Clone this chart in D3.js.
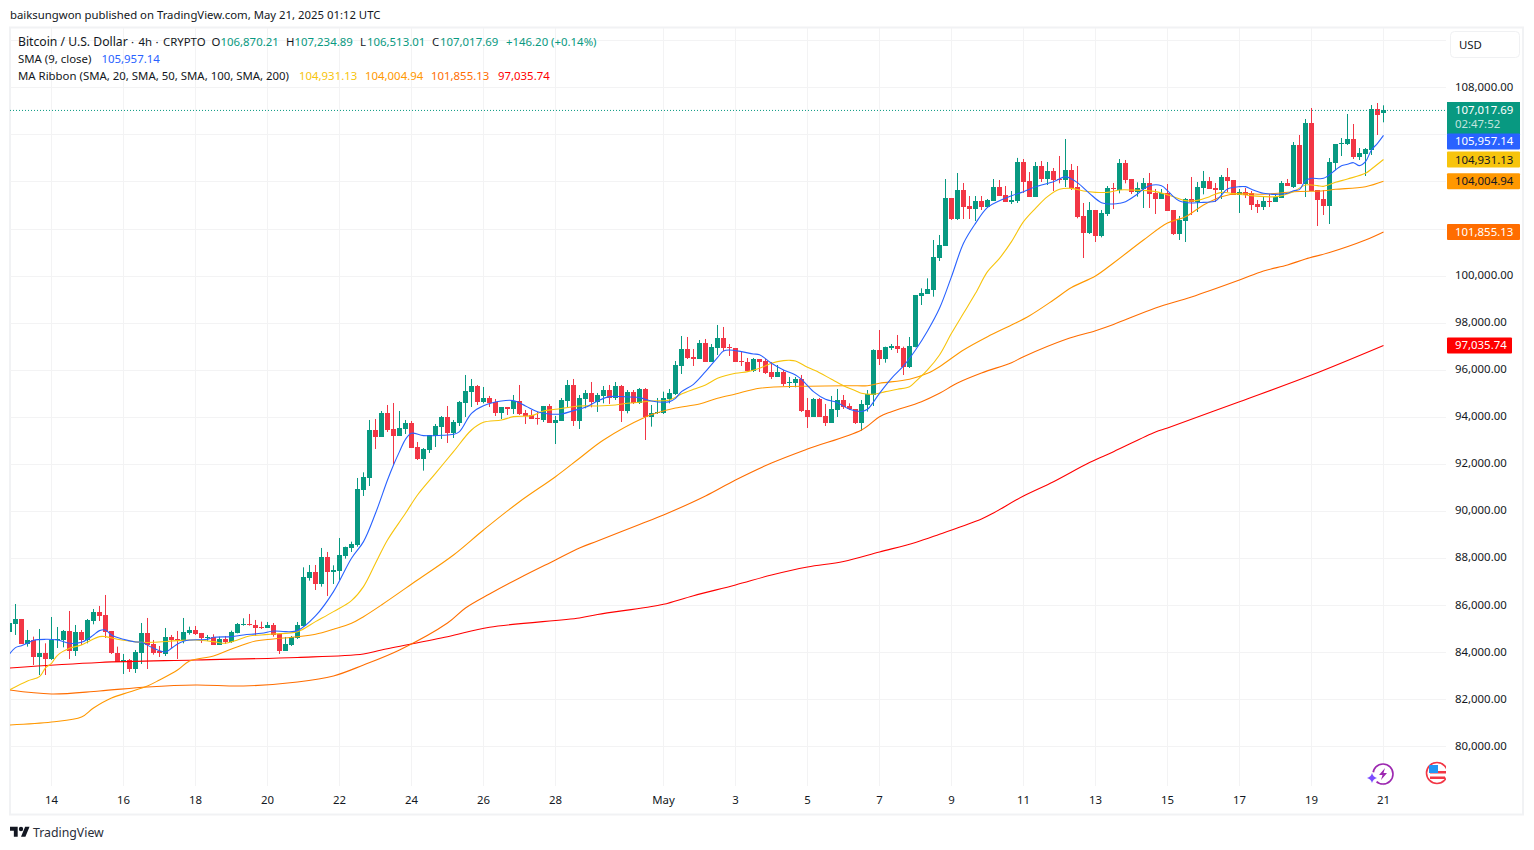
<!DOCTYPE html>
<html>
<head>
<meta charset="utf-8">
<script src="https://cdn.jsdelivr.net/npm/d3@7"></script>
<style>
  html, body { margin: 0; padding: 0; background: #fff; }
  svg { display: block; }
  text { font-family: "Noto Sans", sans-serif; }
</style>
</head>
<body>
<script>
// bars are counted from Apr 14 00:00, one bar = 4h, first bar drawn is -7
var firstBar = -7;

var opens = [
  84875,85201,85413,84351,84521,83799,83969,83714,84521,84521,
  84904,84054,84861,84521,85328,85711,85583,84904,83969,83587,
  83672,83289,83969,84819,84351,84054,83926,84649,84564,84465,
  84819,84946,84819,84620,84649,84309,84564,84436,84819,85158,
  85201,85158,85073,85031,85158,84776,84054,84309,84606,85116,
  87155,87410,86900,88047,87410,87452,88090,88430,88557,90893,
  91403,93442,93145,94164,93485,93187,93485,93740,92720,92210,
  92593,93187,93570,93994,93315,93740,94589,95056,95311,94631,
  94802,94631,94164,94419,94334,94674,94164,94079,93952,93867,
  94462,93740,93825,94674,95354,93825,94759,95014,94632,94887,
  95141,94802,95311,94249,95056,94589,95184,93994,94164,94164,
  94759,94971,96161,96883,96543,96458,97138,96331,96926,97350,
  96968,96926,96373,96331,95948,96458,96373,95906,95694,95906,
  95439,95439,95609,94292,93994,94759,94037,93739,94292,94717,
  94462,94334,93725,94504,94929,96840,96458,96925,97010,96925,
  96118,96968,99134,99219,99389,100748,101258,103297,102405,103637,
  102957,102830,103170,102915,103170,103765,103425,103127,103170,104827,
  104020,103340,104657,104104,104444,104104,104062,104487,103765,102533,
  101810,102788,101683,102618,103722,103637,104784,104105,103552,103680,
  103935,103510,103255,103510,102788,101768,102320,103255,103128,103722,
  104020,103722,103637,104190,104062,103425,103552,103510,103043,102915,
  103170,103128,103297,103935,103765,105549,103892,106484,103637,103255,
  102958,104784,105591,105591,105804,105039,105167,105337,107078,106870.21
];
var highs = [
  85371,86050,85413,84946,84663,84988,84380,85498,85073,84946,
  85753,85158,84946,85413,85838,85966,86433,84904,84238,83926,
  83714,84096,85243,85456,84521,84266,85031,84734,84904,85456,
  85088,85116,84819,84734,84762,84663,84691,84918,85243,85442,
  85626,85371,85300,85286,85243,84804,84649,84691,85286,87608,
  87707,87707,88430,88260,87693,88854,88486,88699,91403,91644,
  93867,93909,94249,94504,94589,94249,93867,93825,92932,92677,
  93230,93697,94037,94462,93867,94674,95779,95609,95354,95269,
  94887,94759,94419,94419,94929,95354,94292,94292,94207,94462,
  94547,94037,94802,95566,95609,94929,95141,95481,95014,95311,
  95354,95481,95354,95141,95141,95226,95226,94504,94802,95071,
  95184,96373,97435,97393,96883,97265,97308,97095,97903,97818,
  97095,96926,96798,96501,96501,96458,96458,96331,96203,95991,
  95694,95694,95779,94802,94802,94802,94547,94887,95184,94929,
  94575,94334,94716,95141,96869,97690,96982,97095,97478,96982,
  97392,99177,99460,99885,101513,101726,104104,103297,104359,103935,
  103382,103382,103382,103255,104104,104062,103807,103595,105001,104954,
  104402,104827,104869,104827,104572,105082,105804,104742,104657,103085,
  103127,102788,102788,103807,103935,104954,104912,104105,103963,104147,
  104360,103680,103680,103892,102788,102533,103297,104190,103977,104445,
  104190,103935,104275,104572,104062,103680,103722,103595,103213,103382,
  103467,103425,104020,104105,105676,105974,106654,107121,103637,103637,
  104997,105591,105846,106866,106441,105421,105421,107248,107333,107234.89
];
var lows = [
  84734,84734,84351,84238,83459,83034,83034,83672,84181,84210,
  83714,83842,84309,84380,85187,85328,84606,83926,83587,83077,
  83162,83119,83502,83289,83898,83799,83842,84181,83714,84380,
  84748,84734,84394,84479,84309,84309,84351,84394,84804,85130,
  85130,84691,84988,85031,84663,83926,84054,84266,84564,85088,
  87042,86645,86787,86391,86900,87070,87976,88260,88486,90639,
  91063,92635,93145,93357,91955,93187,93272,92677,92168,91715,
  92465,92720,93060,92890,93102,93612,93994,94419,94504,94575,
  94419,94037,93909,94079,94122,94079,93697,93909,93669,93782,
  93740,92847,93825,94419,93612,93485,94363,94405,94207,94575,
  94547,94717,93782,94150,94547,94547,93017,93584,94122,94122,
  94575,94929,95821,96458,96161,96458,96331,96331,96628,96798,
  96586,96331,96161,95906,95906,95906,95821,95609,95694,95311,
  95226,95255,94207,93527,93994,93994,93612,93739,93994,94334,
  94292,93697,93414,94221,94461,96203,96302,96840,96713,95778,
  96076,96954,98752,99219,99106,100621,101258,102363,102363,102405,
  102405,102320,102788,102873,103170,103382,103127,103042,103085,103510,
  103340,103340,103977,103850,103595,103920,103765,103637,102434,100748,
  101768,101428,101626,102533,102830,103496,103921,103467,103354,102873,
  102873,102618,103255,102745,101726,101513,101428,102575,102703,103453,
  103680,103128,103255,103552,103425,102660,103297,102788,102660,102788,
  102915,103128,103297,103807,103722,103892,103340,103595,102108,102575,
  102193,104487,105082,105549,104954,104912,104232,105124,105974,106513.01
];
var closes = [
  85258,85413,84351,84521,83799,83969,83714,84521,84564,84904,
  84054,84861,84521,85371,85711,85541,84875,83969,83587,83672,
  83289,84011,84819,84309,83969,83969,84649,84521,84507,84861,
  84946,84776,84606,84649,84309,84564,84422,84861,85201,85201,
  85173,85031,85031,85158,84734,84054,84351,84649,85158,87198,
  87410,86900,88047,87410,87495,88132,88472,88599,90936,91446,
  93442,93145,94164,93442,93187,93527,93740,92677,92210,92635,
  93230,93612,93994,93315,93782,94631,95099,95311,94631,94802,
  94589,94164,94419,94334,94674,94122,94037,93909,93909,94462,
  93740,93867,94717,95354,93825,94802,95014,94632,94929,95141,
  94802,95311,94249,95056,94589,95184,93994,94164,94207,94802,
  95014,96203,96883,96501,96458,97138,96331,96968,97350,96926,
  96926,96331,96331,95948,96458,96331,95864,95694,95906,95396,
  95481,95609,94249,93994,94759,93994,93739,94334,94717,94419,
  94334,93739,94546,94971,96840,96458,96968,97010,96883,96118,
  97010,99177,99262,99432,100791,101301,103297,102405,103637,102915,
  102830,103170,102915,103212,103765,103382,103127,103212,104827,103977,
  103340,104657,104104,104444,104062,104062,104487,103722,102490,101810,
  102788,101683,102660,103722,103680,104784,104062,103552,103722,103935,
  103467,103255,103510,102745,101768,102363,103255,103128,103765,104020,
  103680,103637,104190,104020,103425,103552,103425,103000,102915,103170,
  103128,103340,103935,103807,105549,103892,106484,103595,103213,102958,
  104827,105591,105634,105804,105039,105209,105379,107078,106823,107017.69
];

var sma9Bars = [-7,-6,-5,-4,-3,-1,1,3,5,6,7,8,9,10,12,14,15,17,19,20,21,22,23,26,27,30,32,35,37,39,41,44,47,50,52,54,56,57,58,59,60,62,65,67,68,70,72,75,77,79,81,83,85,87,89,91,93,95,98,100,102,103,104,105,107,109,111,112,113,115,117,118,120,122,124,125,127,129,131,133,135,136,138,140,142,144,146,148,150,152,154,156,158,160,162,164,167,169,170,171,173,175,177,178,179,181,182,183,185,186,187,188,190,192,194,195,196,198,199,200,202,204,206,207,208,209,210,212,214,215,216,217,218,219,220,221,222];
var sma9Values = [83926,84196,84280,84380,84507,84549,84521,84380,84422,84549,84734,84918,84946,84734,84549,84436,84422,84167,84011,84167,84351,84465,84521,84549,84634,84663,84734,84804,84904,84875,84918,85541,86575,87991,88699,89902,91318,91955,92522,93046,93301,93201,93216,93258,93371,94150,94476,94674,94688,94462,94221,94122,94122,94264,94405,94674,94858,94858,94816,94674,94618,94646,94787,95071,95382,95920,96515,96798,96841,96770,96671,96642,96274,95991,95779,95594,95071,94745,94603,94320,94230,94320,95000,95637,96161,96840,97647,98610,99956,101372,102221,102901,103184,103396,103566,103779,103991,104204,104104,103949,103496,103099,103042,103071,103142,103467,103680,103821,103821,103609,103354,103170,103085,103113,103170,103425,103680,103779,103779,103666,103496,103453,103496,103609,103652,104034,104133,104133,104487,104671,104728,104798,104671,104841,105337,105620,105957.14];

var sma20Bars = [-7,-4,-2,-1,0,1,3,5,6,8,9,11,13,15,17,21,24,27,29,31,33,35,37,41,44,47,50,52,54,56,59,61,64,67,70,72,75,77,80,82,84,88,91,94,96,98,100,103,105,107,109,111,114,116,118,120,122,123,124,126,128,130,132,134,135,137,139,141,143,144,146,148,150,152,154,156,158,160,162,164,166,168,170,172,174,176,178,180,184,187,189,191,193,195,197,200,204,207,209,211,212,214,216,219,220,222];
var sma20Values = [82397,82780,82964,83332,83530,83870,84167,84309,84436,84663,84663,84549,84479,84422,84422,84493,84521,84450,84380,84521,84691,84734,84776,84875,85300,85725,86192,86787,87778,88769,89902,90681,91601,92522,93442,93768,93867,94009,94051,94249,94320,94462,94462,94504,94575,94618,94674,94717,94971,95170,95354,95637,95849,95920,96062,96274,96387,96402,96373,96104,95878,95594,95325,95113,95000,94957,95070,95170,95283,95495,95991,96628,97548,98398,99248,100168,100734,101442,102292,102858,103354,103665,103708,103595,103538,103538,103637,103637,103567,103354,103184,103198,103354,103538,103482,103397,103354,103567,103850,103821,103793,103963,104105,104345,104529,104931.13];

var sma50Bars = [-7,0,5,7,10,13,16,18,21,23,27,30,34,37,41,44,47,50,52,55,61,67,72,78,84,88,92,99,101,104,108,111,114,118,125,133,136,138,143,146,148,152,156,160,163,167,170,174,177,182,186,189,192,195,198,202,207,212,214,219,222];
var sma50Values = [80910,81038,81250,81633,82057,82312,82567,82822,83247,83629,83842,84139,84479,84564,84661,84763,84976,85231,85511,86008,87070,88132,89194,90396,91458,92240,93017,93994,94177,94377,94547,94789,94971,95214,95298,95324,95324,95426,95596,95851,96131,96840,97405,97902,98297,98964,99495,99984,100536,101513,102235,102503,103000,103353,103497,103455,103565,103608,103667,103777,104004.94];

var sma100Bars = [-7,0,8,16,24,32,41,47,52,58,66,69,73,78,84,88,91,98,102,109,114,120,126,135,138,140,145,148,151,155,160,162,169,174,177,184,190,198,202,206,209,213,219,222];
var sma100Values = [82397,82227,82355,82525,82610,82567,82737,82992,83459,84097,85243,85881,86475,87155,87920,88429,88727,89428,89831,90638,91318,92040,92635,93442,94007,94219,94644,95001,95439,95863,96301,96556,97287,97660,97924,98625,99092,99814,100197,100451,100706,100982,101513,101855.13];

var sma200Bars = [-7,8,24,41,52,55,66,73,88,91,99,102,107,114,120,126,132,138,144,148,155,157,162,167,173,177,184,186,198,210,222];
var sma200Values = [83332,83566,83672,83778,83927,84097,84661,85061,85456,85605,85902,86038,86403,86858,87282,87622,87856,88259,88663,89011,89661,89916,90638,91246,92061,92520,93357,93527,94644,95779,97035.74];

var gridPrices = [80000,82000,84000,86000,88000,90000,92000,94000,96000,98000,100000,102000,104000,106000,108000,110000];
// 104,000 and 106,000 sit behind the price tags
var priceTicks = [80000,82000,84000,86000,88000,90000,92000,94000,96000,98000,100000,102000,108000];
var timeBars = [0,12,24,36,48,60,72,84,102,114,126,138,150,162,174,186,198,210,222];
var timeLabels = ["14","16","18","20","22","24","26","28","May","3","5","7","9","11","13","15","17","19","21"];

var tagValues = [105957.14, 104931.13, 104004.94, 101855.13, 97035.74];

var upColor = "#089981", downColor = "#f23645", textColor = "#131722";
var blue = "#2962ff", yellow = "#f7c40c", orange = "#ff9800", deepOrange = "#ff6d00", red = "#ff0000";
var gridColor = "#f3f3f4", frameColor = "#f1f2f4";
var fontSize = "11.4px";

var svg = d3.select("body").append("svg").attr("width", 1534).attr("height", 850);

var x = d3.scaleLinear().domain([0, 222]).range([51.5, 1383.5]);
var y = d3.scaleLinear().domain([80000, 108000]).range([746.4, 87.3]);

// frame
svg.append("rect").attr("x", 10).attr("y", 27.5).attr("width", 1513).attr("height", 787)
  .attr("fill", "none").attr("stroke", frameColor).attr("stroke-width", 2);

svg.append("clipPath").attr("id", "plot").append("rect")
  .attr("x", 10).attr("y", 28).attr("width", 1436).attr("height", 757);

// grid
svg.selectAll(".hgrid").data(gridPrices).enter().append("line")
  .attr("x1", 10).attr("x2", 1446)
  .attr("y1", function(d) { return Math.round(y(d)) + 0.5; })
  .attr("y2", function(d) { return Math.round(y(d)) + 0.5; })
  .attr("stroke", gridColor);

svg.selectAll(".vgrid").data(timeBars).enter().append("line")
  .attr("x1", function(d) { return x(d); }).attr("x2", function(d) { return x(d); })
  .attr("y1", 28).attr("y2", 786)
  .attr("stroke", gridColor);

var plot = svg.append("g").attr("clip-path", "url(#plot)");

// candles
var candles = d3.range(opens.length);
function candleColor(i) { return closes[i] >= opens[i] ? upColor : downColor; }
function barX(i) { return x(i + firstBar); }

plot.selectAll(".wick").data(candles).enter().append("rect")
  .attr("x", function(i) { return barX(i) - 0.5; })
  .attr("width", 1)
  .attr("y", function(i) { return y(highs[i]); })
  .attr("height", function(i) { return Math.max(1, y(lows[i]) - y(highs[i])); })
  .attr("fill", candleColor);

plot.selectAll(".body").data(candles).enter().append("rect")
  .attr("x", function(i) { return barX(i) - 2.5; })
  .attr("width", 5)
  .attr("y", function(i) { return Math.round(y(Math.max(opens[i], closes[i]))); })
  .attr("height", function(i) { return Math.max(1, Math.round(Math.abs(y(opens[i]) - y(closes[i])))); })
  .attr("fill", candleColor);

// moving averages
var line = d3.line().x(function(d) { return x(d[0]); }).y(function(d) { return y(d[1]); })
  .curve(d3.curveCatmullRom.alpha(0.5));

function drawAverage(bars, values, color) {
  plot.append("path")
    .attr("d", line(d3.zip(bars, values)))
    .attr("fill", "none").attr("stroke", color).attr("stroke-width", 1.1);
}
drawAverage(sma200Bars, sma200Values, red);
drawAverage(sma100Bars, sma100Values, deepOrange);
drawAverage(sma50Bars, sma50Values, orange);
drawAverage(sma20Bars, sma20Values, yellow);
drawAverage(sma9Bars, sma9Values, blue);

// last price line
plot.append("line")
  .attr("x1", 10).attr("x2", 1446)
  .attr("y1", y(closes[closes.length - 1])).attr("y2", y(closes[closes.length - 1]))
  .attr("stroke", upColor).attr("stroke-dasharray", "1 2");

// axes
var priceAxis = d3.axisRight(y).tickValues(priceTicks).tickSize(0).tickPadding(0)
  .tickFormat(d3.format(",.2f"));
var gy = svg.append("g").attr("transform", "translate(1455,-0.8)").call(priceAxis);
gy.select(".domain").remove();
gy.selectAll("text").attr("fill", textColor).style("font-size", fontSize).style("font-family", '"Noto Sans"');

var timeAxis = d3.axisBottom(x).tickValues(timeBars).tickSize(0).tickPadding(0)
  .tickFormat(function(d, i) { return timeLabels[i]; });
var gx = svg.append("g").attr("transform", "translate(-0.5,796)").call(timeAxis);
gx.select(".domain").remove();
gx.selectAll("text").attr("fill", textColor).style("font-size", fontSize).style("font-family", '"Noto Sans"');

// price tags
var tagColors = [blue, yellow, orange, deepOrange, red];
var tagText = ["#fff", "#131722", "#131722", "#fff", "#fff"];
var tagNudge = [6, 0, 0, 0, 0];
var tagWidth = [73, 73, 73, 73, 65];

svg.append("rect").attr("x", 1447).attr("y", 102).attr("width", 73).attr("height", 32).attr("fill", upColor);
svg.append("text").attr("x", 1455).attr("y", 114).attr("fill", "#fff").style("font-size", fontSize).text("107,017.69");
svg.append("text").attr("x", 1455).attr("y", 128).attr("fill", "#fff").attr("fill-opacity", 0.75).style("font-size", fontSize).text("02:47:52");

tagValues.forEach(function(v, i) {
  var cy = y(v) + tagNudge[i];
  svg.append("rect").attr("x", 1447).attr("y", cy - 8).attr("width", tagWidth[i]).attr("height", 16)
    .attr("rx", 1).attr("fill", tagColors[i]);
  svg.append("text").attr("x", 1455).attr("y", cy + 4).attr("fill", tagText[i])
    .style("font-size", fontSize).text(d3.format(",.2f")(v));
});

// USD box
svg.append("rect").attr("x", 1450.5).attr("y", 31.5).attr("width", 69).attr("height", 26).attr("rx", 4)
  .attr("fill", "#fff").attr("stroke", "#f0f1f3");
svg.append("text").attr("x", 1459).attr("y", 49).attr("fill", textColor).style("font-size", fontSize).text("USD");

// header and legend
function label(px, py, str, color, size) {
  svg.append("text").attr("x", px).attr("y", py).attr("fill", color || textColor)
    .style("font-size", size || fontSize).text(str);
}
label(10, 19, "baiksungwon published on TradingView.com, May 21, 2025 01:12 UTC", textColor, "11.35px");
label(18, 46, "Bitcoin / U.S. Dollar", textColor, "12.2px");
label(131, 46, "·"); label(138.5, 46, "4h"); label(155.5, 46, "·"); label(163, 46, "CRYPTO");
label(211.5, 46, "O"); label(220.5, 46, "106,870.21", upColor);
label(286, 46, "H"); label(294.5, 46, "107,234.89", upColor);
label(360, 46, "L"); label(367, 46, "106,513.01", upColor);
label(432, 46, "C"); label(440, 46, "107,017.69", upColor);
label(506, 46, "+146.20 (+0.14%)", upColor);
label(18, 63, "SMA (9, close)");
label(101.5, 63, "105,957.14", blue);
label(18, 80, "MA Ribbon (SMA, 20, SMA, 50, SMA, 100, SMA, 200)");
label(299, 80, "104,931.13", yellow);
label(365, 80, "104,004.94", orange);
label(431, 80, "101,855.13", deepOrange);
label(498, 80, "97,035.74", red);

// logo
var logo = svg.append("g").attr("transform", "translate(10,824.6) scale(0.55)").attr("fill", textColor);
logo.append("path").attr("d", "M14 22H7V11H0V4h14v18zM28 22h-8l7.5-18h8L28 22z");
logo.append("circle").attr("cx", 20).attr("cy", 8).attr("r", 4);
svg.append("text").attr("x", 33).attr("y", 837).attr("fill", "#2a2e39").style("font-size", "12.3px").text("TradingView");

// event icons
var bolt = svg.append("g").attr("transform", "translate(1383,774)");
bolt.append("circle").attr("r", 10).attr("fill", "#fff").attr("stroke", "#9c27b0").attr("stroke-width", 1.6);
bolt.append("circle").attr("cx", -11).attr("cy", 4).attr("r", 6).attr("fill", "#fff");
bolt.append("path").attr("d", "M2 -6 L-4 1 L-0.5 1 L-2 6 L4 -1 L0.5 -1 Z").attr("fill", "#9c27b0");
bolt.append("path").attr("d", "M-11 -1 Q-10 3 -6 4 Q-10 5 -11 9 Q-12 5 -16 4 Q-12 3 -11 -1 Z").attr("fill", "#7b4dff");

svg.append("clipPath").attr("id", "flagClip").append("rect")
  .attr("x", 1420).attr("y", 760).attr("width", 26).attr("height", 30);
var flag = svg.append("g").attr("clip-path", "url(#flagClip)");
flag.append("circle").attr("cx", 1437).attr("cy", 773).attr("r", 10.5).attr("fill", "#fff").attr("stroke", "#f23645").attr("stroke-width", 1.6);
flag.append("rect").attr("x", 1430).attr("y", 771).attr("width", 16).attr("height", 2.5).attr("fill", "#f23645");
flag.append("rect").attr("x", 1430).attr("y", 776.5).attr("width", 15).attr("height", 2.5).attr("fill", "#f23645");
flag.append("rect").attr("x", 1429).attr("y", 765).attr("width", 9).attr("height", 8).attr("fill", "#2196f3");
</script>
</body>
</html>
